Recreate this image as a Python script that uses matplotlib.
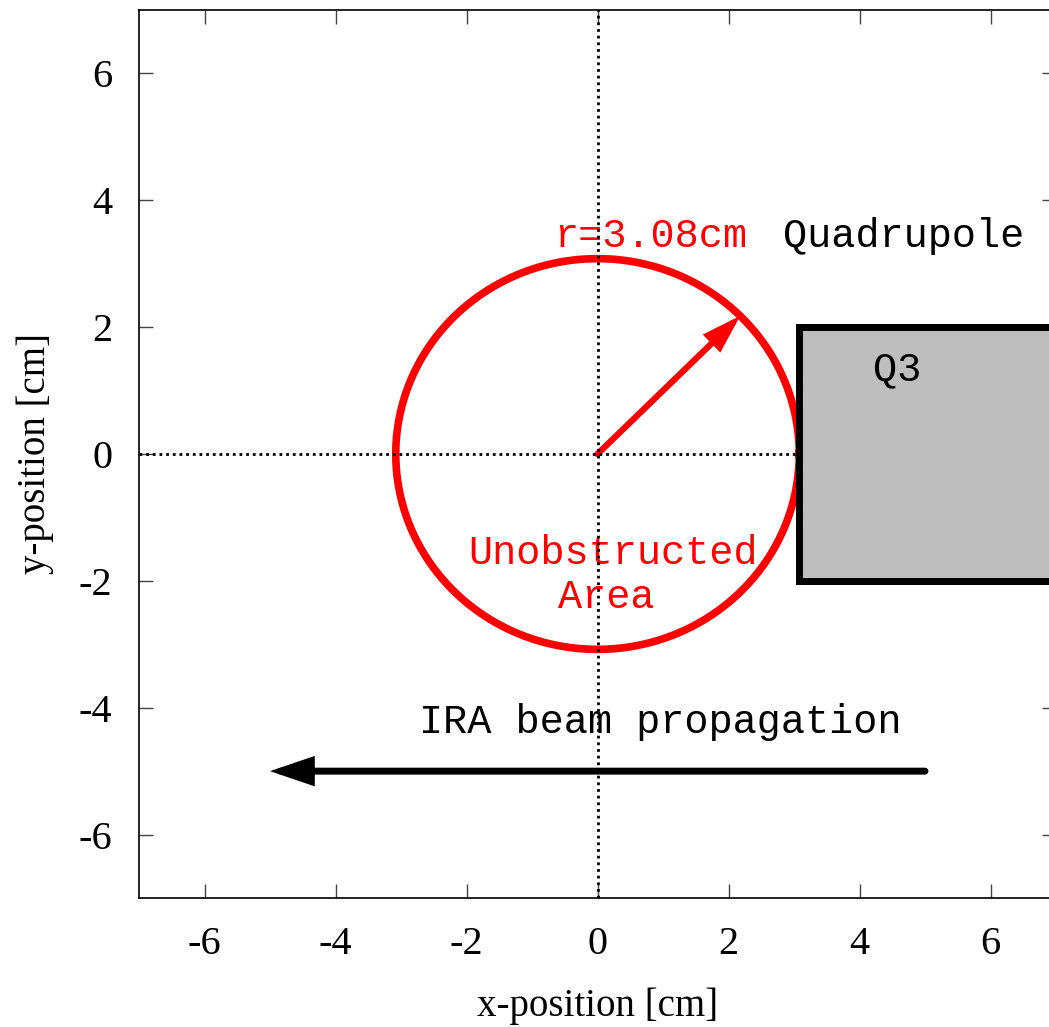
import matplotlib
matplotlib.use("Agg")
import matplotlib.pyplot as plt
import numpy as np
from matplotlib.patches import Rectangle

plt.rcParams["axes.unicode_minus"] = False
plt.rcParams["font.family"] = "Liberation Serif"

# geometry (cm)
radius = 3.08
quad_x0 = 3.08
quad_y = (-2.0, 2.0)
beam_start = (5.0, -5.0)
beam_end = (-5.0, -5.0)
ticks = [-6, -4, -2, 0, 2, 4, 6]
limits = (-7, 7)

mono = "Liberation Mono"

fig = plt.figure(figsize=(10.49, 10.27), dpi=100)
ax = fig.add_axes([139 / 1049, 129 / 1027, 917 / 1049, 888 / 1027])
ax.set_xlim(limits)
ax.set_ylim(limits)

# aperture circle
theta = np.linspace(0, 2 * np.pi, 400)
ax.plot(radius * np.cos(theta), radius * np.sin(theta), color="red", lw=5.5, zorder=2)

# radius arrow at 45 degrees
tip = (radius * np.cos(np.pi / 4), radius * np.sin(np.pi / 4))
ax.annotate("", xy=tip, xytext=(0, 0),
            arrowprops=dict(arrowstyle="-|>,head_length=1.9,head_width=0.6",
                            mutation_scale=10, color="red", lw=4.5,
                            shrinkA=0, shrinkB=0, joinstyle="miter"),
            zorder=3)

# quadrupole Q3 block
ax.add_patch(Rectangle((quad_x0, quad_y[0]), 10, quad_y[1] - quad_y[0],
                       facecolor="#bebebe", edgecolor="black", lw=5, zorder=5))

# beam direction arrow
ax.annotate("", xy=beam_end, xytext=beam_start,
            arrowprops=dict(arrowstyle="-|>,head_length=2.2,head_width=0.75",
                            mutation_scale=10, color="black", lw=5,
                            shrinkA=0, shrinkB=0, joinstyle="miter"),
            zorder=2)

# zero lines
dots = (0, (1, 1.4))
ax.axvline(0, color="black", lw=2.0, ls=dots, zorder=4)
ax.axhline(0, color="black", lw=2.0, ls=dots, zorder=4)

# labels
ax.text(0.81, 3.43, "r=3.08cm", color="red", family=mono, fontsize=29,
        ha="center", va="center", zorder=3)
ax.text(4.67, 3.43, "Quadrupole", color="black", family=mono, fontsize=29,
        ha="center", va="center", zorder=6)
ax.text(4.58, 1.34, "Q3", color="black", family=mono, fontsize=29,
        ha="center", va="center", zorder=6)
ax.text(0.23, -1.56, "Unobstructed", color="red", family=mono, fontsize=29,
        ha="center", va="center", zorder=3)
ax.text(0.14, -2.25, "Area", color="red", family=mono, fontsize=29,
        ha="center", va="center", zorder=3)
ax.text(0.96, -4.22, "IRA beam propagation", color="black", family=mono,
        fontsize=29, ha="center", va="center", zorder=3)

ax.set_xticks(ticks)
ax.set_yticks(ticks)
ax.tick_params(direction="in", length=10, width=1, color="#444444",
               top=True, right=True, labelsize=29)
ax.tick_params(axis="x", pad=20)
ax.tick_params(axis="y", pad=19)
for s in ax.spines.values():
    s.set_linewidth(1.2)
ax.set_xlabel("x-position [cm]", fontsize=28, labelpad=18)
ax.set_ylabel("y-position [cm]", fontsize=28, labelpad=18)

fig.savefig("out.png", dpi=100)
